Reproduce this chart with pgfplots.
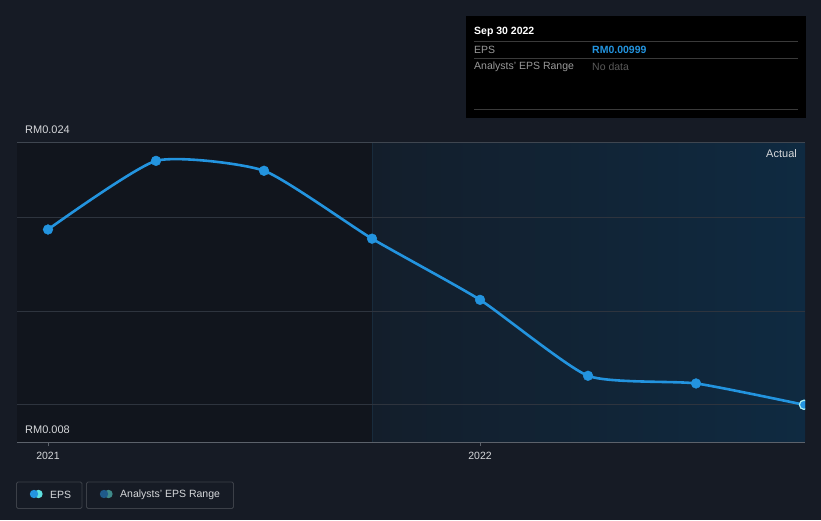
\documentclass[border=0pt]{standalone}
\usepackage{pgfplots}
\pgfplotsset{compat=1.18}
\usepackage{fontspec}
\setmainfont{Liberation Sans}
\definecolor{bg}{HTML}{161B25}
\definecolor{leftdark}{HTML}{11151D}
\definecolor{rightA}{HTML}{131E2B}
\definecolor{rightB}{HTML}{0F2A41}
\definecolor{eps}{HTML}{2394DF}
\definecolor{gridc}{HTML}{2E343E}
\definecolor{topline}{HTML}{3F4650}
\definecolor{axisc}{HTML}{5C626B}
\definecolor{vline}{HTML}{182B3C}
\definecolor{txt}{HTML}{D6D8DB}
\definecolor{ttline}{HTML}{3A3A3A}
\definecolor{ttgrey}{HTML}{9A9A9A}
\definecolor{ttdim}{HTML}{5A5A5A}
\definecolor{legbox}{HTML}{3C4048}
\definecolor{cyanc}{HTML}{5EE0E0}
\definecolor{darkb}{HTML}{1F5A8A}
\definecolor{teal}{HTML}{3F8A8A}
\begin{document}
\begin{tikzpicture}[x=1pt,y=1pt]
\fill[bg] (0,0) rectangle (821,520);
% regions
\fill[leftdark] (17,78) rectangle (372,377.3);
\fill[left color=rightA,right color=rightB] (372,78) rectangle (805,377.3);
\draw[vline,line width=0.8pt] (372,78) -- (372,377.3);
\draw[topline,line width=0.8pt] (17,377.3) -- (805,377.3);
\begin{axis}[
  at={(17pt,78pt)}, anchor=south west,
  scale only axis, width=788pt, height=299.3pt,
  xmin=-0.287, xmax=7.009, ymin=0.008, ymax=0.024,
  axis x line=bottom, axis y line=none,
  x axis line style={-, color=axisc, line width=0.9pt},
  xtick={0,4}, xticklabels={2021,2022},
  tick align=outside, major tick length=4pt,
  xtick style={color=axisc, line width=0.6pt},
  xticklabel style={font=\fontsize{10.5}{12}\selectfont, text=txt, yshift=-3pt},
  clip marker paths=true,
]
\addplot[gridc, line width=0.8pt, forget plot] coordinates {(-0.287,0.020) (7.009,0.020)};
\addplot[gridc, line width=0.8pt, forget plot] coordinates {(-0.287,0.015) (7.009,0.015)};
\addplot[gridc, line width=0.8pt, forget plot] coordinates {(-0.287,0.010) (7.009,0.010)};
\addplot[color=eps, line width=2.6pt, smooth, tension=0.33, mark=*, mark size=4.9pt, mark options={solid, fill=eps, draw=eps, line width=0.4pt}]
coordinates {
(0,0.01936) (1,0.02303) (2,0.02250) (3,0.01887) (4,0.01560) (5,0.01154) (6,0.01113) (7,0.00999)
};
\addplot[only marks, mark=*, mark size=4.6pt, mark options={solid, fill=eps, draw=cyanc!50!white, line width=1.2pt}]
coordinates {(7,0.00999)};
\end{axis}
% y labels
\node[anchor=west, text=txt, font=\fontsize{11}{13}\selectfont, inner sep=0] at (25,390) {RM0.024};
\node[anchor=west, text=txt, font=\fontsize{11}{13}\selectfont, inner sep=0] at (25,90) {RM0.008};
\node[anchor=east, text=txt, font=\fontsize{11}{13}\selectfont, inner sep=0] at (797,366) {Actual};
% tooltip
\fill[black] (466,402) rectangle (806,504);
\node[anchor=west, text=white, font=\bfseries\fontsize{10.5}{12}\selectfont, inner sep=0] at (474,488) {Sep 30 2022};
\draw[ttline, line width=0.8pt] (474,478.7) -- (798,478.7);
\node[anchor=west, text=ttgrey, font=\fontsize{10.5}{12}\selectfont, inner sep=0] at (474,470.5) {EPS};
\node[anchor=west, text=eps, font=\bfseries\fontsize{10.5}{12}\selectfont, inner sep=0] at (592,470.5) {RM0.00999};
\draw[ttline, line width=0.8pt] (474,461.7) -- (798,461.7);
\node[anchor=west, text=ttgrey, font=\fontsize{10.5}{12}\selectfont, inner sep=0] at (474,453.5) {Analysts' EPS Range};
\node[anchor=west, text=ttdim, font=\fontsize{10.5}{12}\selectfont, inner sep=0] at (592,453.5) {No data};
\draw[ttline, line width=0.8pt] (474,410.7) -- (798,410.7);
% legend
\draw[legbox, line width=0.8pt, rounded corners=1.5pt] (16.5,11.5) rectangle (82,38);
\fill[cyanc] (38.5,26) circle (4.2);
\fill[eps] (34,26) circle (4.2);
\node[anchor=west, text=txt, font=\fontsize{10.5}{12}\selectfont, inner sep=0] at (50,25.5) {EPS};
\draw[legbox, line width=0.8pt, rounded corners=1.5pt] (86.5,11.5) rectangle (233.5,38);
\fill[teal] (108.5,26) circle (4.2);
\fill[darkb] (104,26) circle (4.2);
\node[anchor=west, text=txt, font=\fontsize{10.5}{12}\selectfont, inner sep=0] at (120,25.5) {Analysts' EPS Range};
\end{tikzpicture}
\end{document}
